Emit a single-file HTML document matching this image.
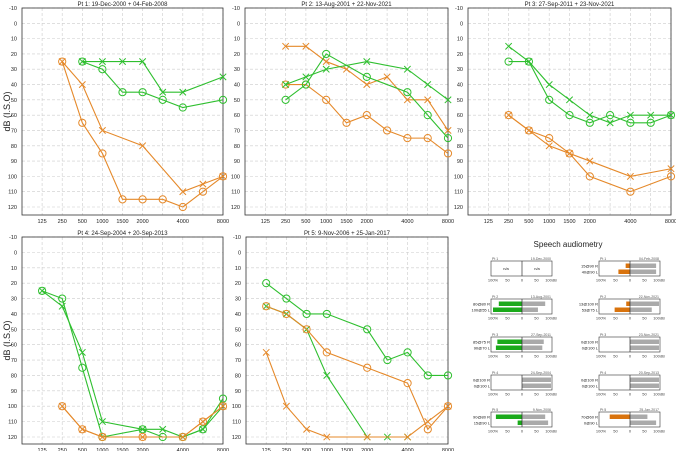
<!DOCTYPE html>
<html><head><meta charset="utf-8"><style>
body{margin:0;background:#fff;width:676px;height:451px;overflow:hidden;font-family:"Liberation Sans",sans-serif}
svg text{font-family:"Liberation Sans",sans-serif}
</style></head><body>
<svg id="c" width="676" height="451" viewBox="0 0 676 451"></svg>
<script>
const freqLabels=["125","250","500","1000","1500","2000","","4000","","8000"];
const yTicks=[-10,0,10,20,30,40,50,60,70,80,90,100,110,120];
const N=null;
const pt1GreenX=[N,N,25,25,25,25,45,45,N,35];
const pt1GreenO=[N,N,25,30,45,45,50,55,N,50];
const pt1OrangeX=[N,25,40,70,N,80,N,110,105,100];
const pt1OrangeO=[N,25,65,85,115,115,115,120,110,100];
const pt2OrangeX=[N,15,15,25,30,40,35,50,50,70];
const pt2OrangeO=[N,40,40,50,65,60,70,75,75,85];
const pt2GreenX=[N,40,35,30,N,25,N,30,40,50];
const pt2GreenO=[N,50,40,20,N,35,N,45,60,75];
const pt3GreenX=[N,15,25,40,50,60,65,60,60,60];
const pt3GreenO=[N,25,25,50,60,65,60,65,65,60];
const pt3OrangeX=[N,60,70,80,85,90,N,100,N,95];
const pt3OrangeO=[N,60,70,75,85,100,N,110,N,100];
const pt4GreenO=[25,30,75,120,N,115,120,120,115,95];
const pt4GreenX=[25,35,65,110,N,115,115,120,115,100];
const pt4OrangeX=[N,100,115,120,N,120,N,120,110,100];
const pt4OrangeO=[N,100,115,120,N,120,N,120,110,100];
const pt5GreenO=[20,30,40,40,N,50,70,65,80,80];
const pt5GreenX=[35,40,50,80,N,120,120,120,N,N];
const pt5OrangeO=[35,40,50,65,N,75,N,85,115,100];
const pt5OrangeX=[65,100,115,120,N,120,N,120,110,100];

const speechPt=["Pt 1","Pt 1","Pt 2","Pt 2","Pt 3","Pt 3","Pt 4","Pt 4","Pt 5","Pt 5"];
const speechDates=["19-Dec-2000","04-Feb-2008","13-Aug-2001","22-Nov-2021","27-Sep-2011","23-Nov-2021","24-Sep-2004","20-Sep-2013","9-Nov-2006","25-Jan-2017"];
const speechPctR=[N,15,80,13,85,0,0,0,90,70];
const speechPctL=[N,40,100,53,90,0,0,0,15,0];
const speechDbR=[N,90,80,100,75,100,100,100,80,60];
const speechDbL=[N,90,55,75,70,100,100,100,90,90];

const G="#2fbf2f",O="#e5892a",NS="http://www.w3.org/2000/svg";
const svg=document.getElementById('c');
function el(t,a,p){const e=document.createElementNS(NS,t);for(const k in a)e.setAttribute(k,a[k]);(p||svg).appendChild(e);return e;}
function txt(x,y,s,size,anchor,p,fill){const t=el('text',{x:x,y:y,'font-size':size,'text-anchor':anchor||'middle',fill:fill||'#222'},p);t.textContent=s;return t;}

function panel(name,title,x0,x1,top,bottom,yAt,series,ylab){
  const g=el('g',{});
  
  
  const step=(x1-x0)/10;
  const X=i=>x0+(i+1)*step;
  const Y=v=>top+(v+10)*yAt;
  for(const v of yTicks){
    const l=el('line',{x1:x0,x2:x1,y1:Y(v),y2:Y(v),stroke:'#ccc','stroke-width':0.6,'stroke-dasharray':'3,2'},g);
    
    const t=txt(x0-5,Y(v)+2,String(v),5.5,'end',g);
    
  }
  freqLabels.forEach((f,i)=>{
    const l=el('line',{x1:X(i),x2:X(i),y1:top,y2:bottom,stroke:'#ccc','stroke-width':0.6,'stroke-dasharray':'3,2'},g);
    
    if(f){const t=txt(X(i),bottom+8,f,5.5,'middle',g);}
  });
  const r=el('rect',{x:x0,y:top,width:x1-x0,height:bottom-top,fill:'none',stroke:'#333','stroke-width':0.8},g);
  
  const tt=txt((x0+x1)/2,top-2,title,6,'middle',g);
  
  if(ylab){const yl=el('text',{x:0,y:0,'font-size':9,'text-anchor':'middle',fill:'#222',transform:`translate(10,${(top+bottom)/2}) rotate(-90)`},g);yl.textContent='dB (I.S.O)';
    }
  series.forEach(s=>{
    const pts=[];s.v.forEach((v,i)=>{if(v!==null)pts.push([X(i),Y(v)]);});
    const pl=el('polyline',{points:pts.map(p=>p.join(',')).join(' '),fill:'none',stroke:s.c,'stroke-width':1.1},g);
    
    pts.forEach(p=>{
      let m;
      if(s.m==='o'){m=el('circle',{cx:p[0],cy:p[1],r:3.6,fill:'none',stroke:s.c,'stroke-width':1},g);}
      else{m=el('path',{d:`M${p[0]-3.2},${p[1]-3.2}L${p[0]+3.2},${p[1]+3.2}M${p[0]-3.2},${p[1]+3.2}L${p[0]+3.2},${p[1]-3.2}`,stroke:s.c,'stroke-width':1},g);}
      
    });
  });
}
const yt=(207-8)/130, yb=(437-237)/130;
panel('panel-pt1','Pt 1:   19-Dec-2000 + 04-Feb-2008',22,223,8,215,yt,[{v:pt1GreenX,c:G,m:'x'},{v:pt1GreenO,c:G,m:'o'},{v:pt1OrangeX,c:O,m:'x'},{v:pt1OrangeO,c:O,m:'o'}],true);
panel('panel-pt2','Pt 2:   13-Aug-2001 + 22-Nov-2021',245,448,8,215,yt,[{v:pt2OrangeX,c:O,m:'x'},{v:pt2OrangeO,c:O,m:'o'},{v:pt2GreenX,c:G,m:'x'},{v:pt2GreenO,c:G,m:'o'}],false);
panel('panel-pt3','Pt 3:   27-Sep-2011 + 23-Nov-2021',468,671,8,215,yt,[{v:pt3GreenX,c:G,m:'x'},{v:pt3GreenO,c:G,m:'o'},{v:pt3OrangeX,c:O,m:'x'},{v:pt3OrangeO,c:O,m:'o'}],false);
panel('panel-pt4','Pt 4:   24-Sep-2004 + 20-Sep-2013',22,223,237,444,yb,[{v:pt4GreenO,c:G,m:'o'},{v:pt4GreenX,c:G,m:'x'},{v:pt4OrangeX,c:O,m:'x'},{v:pt4OrangeO,c:O,m:'o'}],true);
panel('panel-pt5','Pt 5:   9-Nov-2006 + 25-Jan-2017',246,448,237,444,yb,[{v:pt5GreenO,c:G,m:'o'},{v:pt5GreenX,c:G,m:'x'},{v:pt5OrangeO,c:O,m:'o'},{v:pt5OrangeX,c:O,m:'x'}],false);

// speech audiometry
const st=txt(568,247,'Speech audiometry',8,'middle');

const colX=[491,599],rowY=[261,299,337,375,412];
speechDates.forEach((d,k)=>{
  const col=k%2,row=Math.floor(k/2);
  const x=colX[col],y=rowY[row],w=61,h=15,z=x+31,half=29;
  const g=el('g',{});
  
  
  el('rect',{x:x,y:y,width:w,height:h,fill:'#fff',stroke:'#333','stroke-width':0.6},g);
  txt(x+1,y-1,speechPt[k],3.5,'start',g,'#555');
  txt(x+w-1,y-1,d,3.5,'end',g,'#555');
  const col2=col===0?'#1aaa1a':'#d9730d';
  if(speechPctR[k]===null){
    txt(x+15,y+9,'n/a',4,'middle',g);txt(z+15,y+9,'n/a',4,'middle',g);
  }else{
    [[speechPctR[k],speechDbR[k],'R',y+2.5],[speechPctL[k],speechDbL[k],'L',y+8.5]].forEach(([p,db,s,by])=>{
      const gb=el('rect',{x:z,y:by,width:db/100*half,height:4.5,fill:'#aaa'},g);
      
      const pb=el('rect',{x:z-p/100*half,y:by,width:p/100*half,height:4.5,fill:col2},g);
      
      txt(x-1,by+3.8,`${p}@${db} ${s}`,4,'end',g);
    });
  }
  el('line',{x1:z,x2:z,y1:y,y2:y+h,stroke:'#333','stroke-width':0.7},g);
  const labs=['100%','50','0','50','100dB'],off=[-half,-half/2,0,half/2,half];
  labs.forEach((l,i)=>txt(z+off[i],y+h+5.5,l,4,'middle',g,'#444'));
});
</script>
</body></html>
